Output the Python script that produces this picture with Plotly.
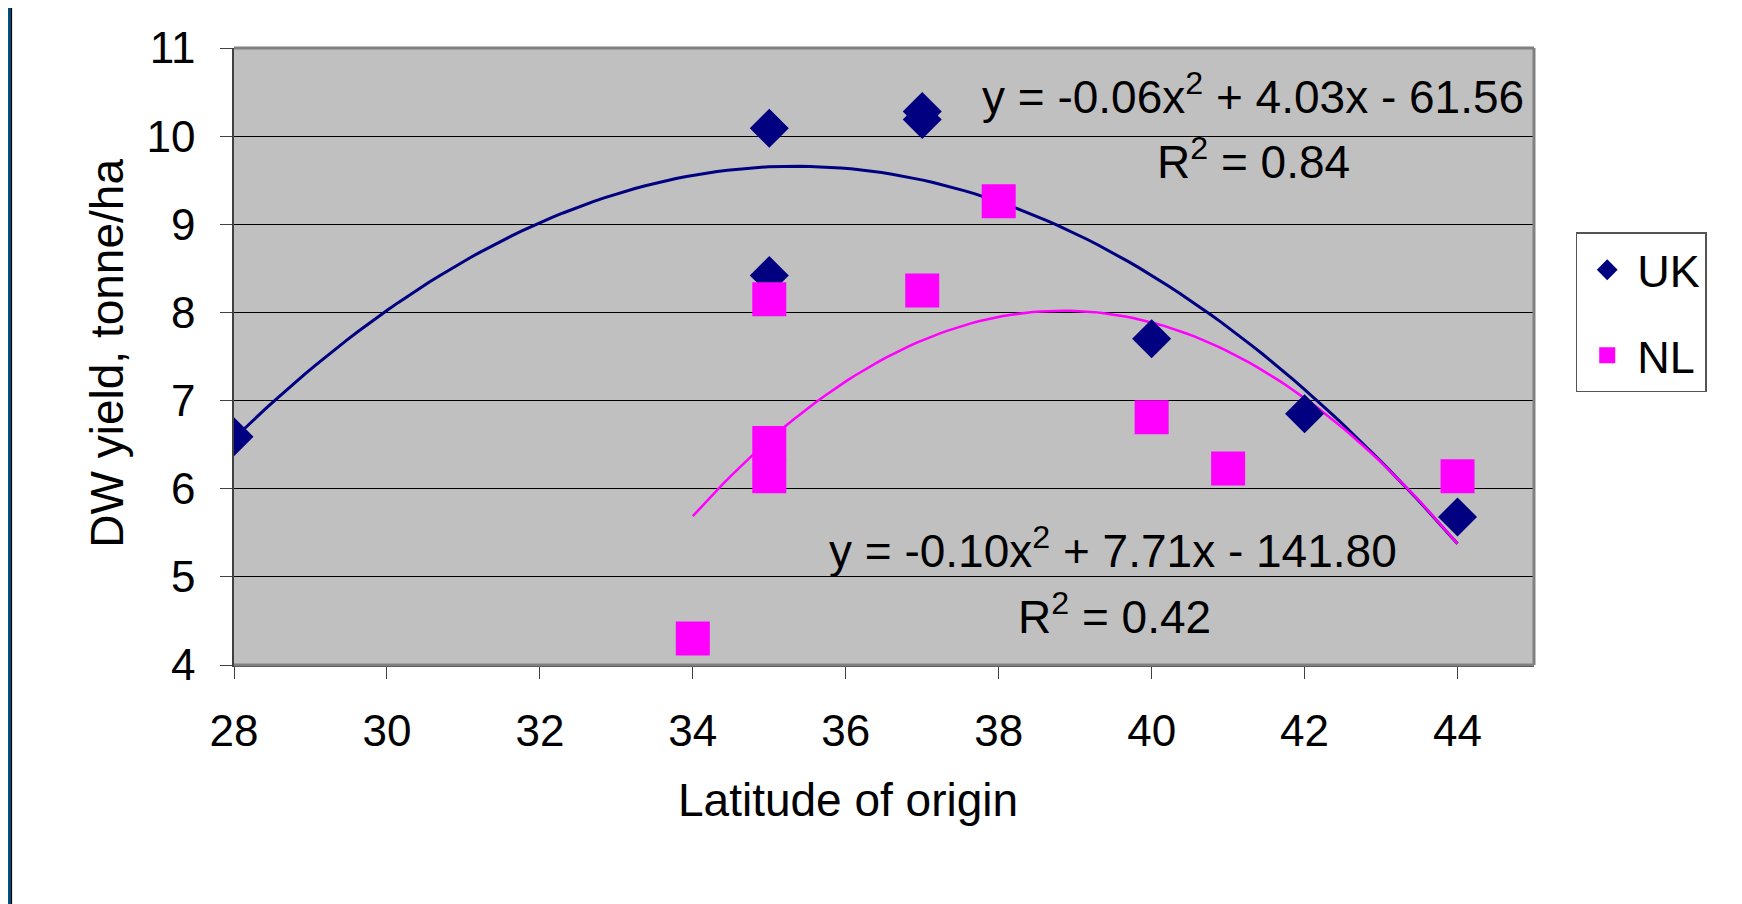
import numpy as np
import plotly.graph_objects as go

# ---- data ----
uk_lat = [28, 35, 35, 37, 37, 40, 42, 44]
uk_yield = [6.59, 10.09, 8.42, 10.28, 10.19, 7.70, 6.85, 5.68]

nl_lat = [34, 35, 35, 35, 37, 38, 40, 41, 44]
nl_yield = [4.30, 8.15, 6.52, 6.14, 8.25, 9.26, 6.81, 6.23, 6.14]

x_ticks = [28, 30, 32, 34, 36, 38, 40, 42, 44]
y_ticks = [4, 5, 6, 7, 8, 9, 10, 11]

uk_eq = "y = -0.06x<sup>2</sup> + 4.03x - 61.56"
uk_r2 = "R<sup>2</sup> = 0.84"
nl_eq = "y = -0.10x<sup>2</sup> + 7.71x - 141.80"
nl_r2 = "R<sup>2</sup> = 0.42"

# ---- styles ----
FONT = "Liberation Sans, Arial, sans-serif"
UK_COL = "#000080"
NL_COL = "#FF00FF"
BORDER_BLUE = "#004E7C"

# polynomial (order 2) trendlines fitted from the data, as in the source chart
uk_fit = np.poly1d(np.polyfit(uk_lat, uk_yield, 2))
nl_fit = np.poly1d(np.polyfit(nl_lat, nl_yield, 2))
uk_tx = np.linspace(min(uk_lat), max(uk_lat), 120)
nl_tx = np.linspace(min(nl_lat), max(nl_lat), 100)

fig = go.Figure()

fig.add_trace(go.Scatter(x=uk_tx, y=uk_fit(uk_tx), mode="lines",
                         line=dict(color=UK_COL, width=3), showlegend=False,
                         hoverinfo="skip"))
fig.add_trace(go.Scatter(x=nl_tx, y=nl_fit(nl_tx), mode="lines",
                         line=dict(color=NL_COL, width=2.5), showlegend=False,
                         hoverinfo="skip"))
fig.add_trace(go.Scatter(x=uk_lat, y=uk_yield, mode="markers", name="UK",
                         legendgroup="uk",
                         marker=dict(symbol="diamond", size=30, color=UK_COL,
                                     line=dict(width=0))))
fig.add_trace(go.Scatter(x=nl_lat, y=nl_yield, mode="markers", name="NL",
                         legendgroup="nl",
                         marker=dict(symbol="square", size=34, color=NL_COL,
                                     line=dict(width=0))))

# equation annotations
for txt, ax, ay in [(uk_eq, 41.32, 10.48), (uk_r2, 41.33, 9.74),
                    (nl_eq, 39.49, 5.33), (nl_r2, 39.52, 4.575)]:
    fig.add_annotation(x=ax, y=ay, xref="x", yref="y", text=txt, showarrow=False,
                       xanchor="center", yanchor="middle",
                       font=dict(family=FONT, size=46, color="black"))

# axis titles as annotations
fig.add_annotation(x=0.472, y=-0.219, xref="paper", yref="paper",
                   text="Latitude of origin", showarrow=False,
                   xanchor="center", yanchor="middle",
                   font=dict(family=FONT, size=46, color="black"))
fig.add_annotation(x=-0.0973, y=0.5054, xref="paper", yref="paper",
                   text="DW yield, tonne/ha", showarrow=False, textangle=-90,
                   xanchor="center", yanchor="middle",
                   font=dict(family=FONT, size=46, color="black"))

# plot-area border (top, right, bottom) in grey
for x0, y0, x1, y1 in [(0, 1, 1, 1), (1, 0, 1, 1), (0, 0, 1, 0)]:
    fig.add_shape(type="line", xref="paper", yref="paper", x0=x0, y0=y0, x1=x1, y1=y1,
                  line=dict(color="#808080", width=3), layer="above")

# slide frame: blue strip on the left edge
fig.add_shape(type="rect", xref="paper", yref="paper", xsizemode="pixel", xanchor=0,
              x0=-232, x1=-223, y0=-2, y1=2, fillcolor=BORDER_BLUE,
              line=dict(width=0), layer="above")
fig.add_shape(type="line", xref="paper", yref="paper", xsizemode="pixel", xanchor=0,
              x0=-222.5, x1=-222.5, y0=-2, y1=2, line=dict(color="black", width=1.2),
              layer="above")

fig.update_layout(
    width=1742, height=904,
    margin=dict(l=226, r=216, t=40, b=247, autoexpand=False),
    paper_bgcolor="white",
    plot_bgcolor="#C0C0C0",
    font=dict(family=FONT, size=44, color="black"),
    showlegend=True,
    legend=dict(x=1.0321, y=0.7010, xanchor="left", yanchor="top",
                bgcolor="white", bordercolor="#555555", borderwidth=1.5,
                font=dict(family=FONT, size=45, color="black"),
                traceorder="grouped", tracegroupgap=24, itemwidth=50),
    xaxis=dict(range=[28, 45], tickvals=x_ticks, showgrid=False, zeroline=False,
               showline=True, linecolor="#404040", linewidth=2,
               ticks="outside", ticklen=12, tickcolor="#404040", tickwidth=1,
               ticklabelstandoff=14,
               tickfont=dict(family=FONT, size=44, color="black")),
    yaxis=dict(range=[4, 11], tickvals=y_ticks, showgrid=True, gridcolor="black",
               gridwidth=1, zeroline=False,
               showline=True, linecolor="#404040", linewidth=1.5,
               ticks="outside", ticklen=12, tickcolor="#404040", tickwidth=1,
               ticklabelstandoff=16,
               tickfont=dict(family=FONT, size=44, color="black")),
)

fig.write_html("out.html")
